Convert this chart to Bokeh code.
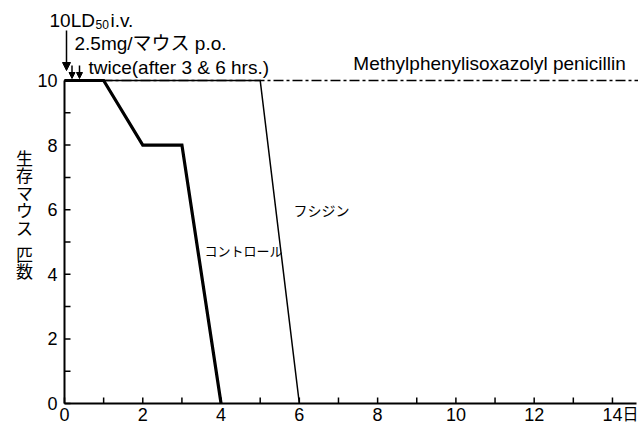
from bokeh.plotting import figure
from bokeh.models import Range1d, Arrow, NormalHead
from bokeh.core.properties import value
from bokeh.embed import file_html
from bokeh.resources import INLINE

# ---- data ----
ctrl_days = [0, 1, 2, 3, 4]
ctrl_mice = [10, 10, 8, 8, 0]
fus_days = [0, 5, 6]
fus_mice = [10, 10, 0]
pen_days = [0, 14.7]
pen_mice = [10, 10]

x_ticks = list(range(0, 15))
x_label_pos = [0, 2, 4, 6, 8, 10, 12, 14]
x_label_text = ["0", "2", "4", "6", "8", "10", "12", "14"]
x_unit = "日"
y_ticks = list(range(0, 11))
y_label_pos = [0, 2, 4, 6, 8, 10]
y_label_text = ["0", "2", "4", "6", "8", "10"]

ylabel_chars = ["生", "存", "マ", "ウ", "ス", "匹", "数"]
ctrl_name = "コントロール"
fus_name = "フシジン"
pen_name = "Methylphenylisoxazolyl penicillin"
note1a, note1b, note1c = "10LD", "50", "i.v."
note2 = "2.5mg/マウス p.o."
note3 = "twice(after 3 & 6 hrs.)"

FONT = "Liberation Sans, Noto Sans CJK JP"

# ---- geometry (pixels) ----
W, H = 638, 425
X0_PX, XS = 64, 39.14      # x=0 position and px per day
Y0_PX, YS = 403, 32.3      # y=0 position (from top) and px per mouse
BL = 5                     # baseline correction (px) for alphabetic text

def dx(px):  # px distance -> data units
    return px / XS

def dy(px):
    return px / YS

def ytop(px_from_top):  # pixel row -> data y
    return (Y0_PX - px_from_top) / YS

p = figure(width=W, height=H, output_backend="svg", toolbar_location=None,
           x_range=Range1d(-X0_PX / XS, (W - X0_PX) / XS),
           y_range=Range1d(-(H - Y0_PX) / YS, Y0_PX / YS),
           min_border=0, min_border_left=0, min_border_right=0,
           min_border_top=0, min_border_bottom=0)
p.outline_line_color = None
p.xgrid.visible = False
p.ygrid.visible = False
p.xaxis.visible = False
p.yaxis.visible = False

# ---- axes drawn with glyphs ----
x_end = (W - 2 - X0_PX) / XS
p.segment(x0=[0, 0], y0=[0, 0], x1=[x_end, 0], y1=[0, 10], line_color="black", line_width=2)
p.segment(x0=x_ticks, y0=[0] * len(x_ticks), x1=x_ticks, y1=[dy(6)] * len(x_ticks),
          line_color="black", line_width=1.5)
p.segment(x0=[0] * len(y_ticks), y0=y_ticks, x1=[dx(6)] * len(y_ticks), y1=y_ticks,
          line_color="black", line_width=1.5)

p.text(x=x_label_pos, y=[ytop(419 - BL)] * len(x_label_pos), text=x_label_text,
       text_font=value(FONT), text_font_size=value("18px"), text_color="black",
       text_align="center", text_baseline="alphabetic")
p.text(x=[14], y=[ytop(419 - BL)], x_offset=[10], text=[x_unit],
       text_font=value(FONT), text_font_size=value("16px"), text_color="black",
       text_align="left", text_baseline="alphabetic")
p.text(x=[-dx(7)] * len(y_label_pos), y=y_label_pos, text=y_label_text,
       text_font=value(FONT), text_font_size=value("18px"), text_color="black",
       text_align="right", text_baseline="middle")

# y-axis title written vertically
yl_y = [ytop(149 + i * 17.6 + (8 if i >= 5 else 0)) for i in range(len(ylabel_chars))]
p.text(x=[-dx(40)] * len(ylabel_chars), y=yl_y, text=ylabel_chars,
       text_font=value(FONT), text_font_size=value("17px"), text_color="black",
       text_align="center", text_baseline="top")

# ---- series ----
p.line(pen_days, pen_mice, line_color="black", line_width=1.4, line_dash="10 3 3 3")
p.line(fus_days, fus_mice, line_color="black", line_width=1.5, line_join="miter")
p.line(ctrl_days, ctrl_mice, line_color="black", line_width=3.2, line_join="miter")

# ---- top annotations ----
b1 = ytop(25 - BL)
p.text(x=[-dx(15)], y=[b1], text=[note1a], text_font=value(FONT), text_font_size=value("19px"),
       text_color="black", text_baseline="alphabetic")
p.text(x=[-dx(15)], y=[b1 - dy(4)], x_offset=[46], text=[note1b], text_font=value(FONT),
       text_font_size=value("12px"), text_color="black", text_baseline="alphabetic")
p.text(x=[-dx(15)], y=[b1], x_offset=[61], text=[note1c], text_font=value(FONT),
       text_font_size=value("19px"), text_color="black", text_baseline="alphabetic")
p.text(x=[dx(10)], y=[ytop(48 - BL)], text=[note2], text_font=value(FONT),
       text_font_size=value("19px"), text_color="black", text_baseline="alphabetic")
p.text(x=[dx(24)], y=[ytop(72 - BL)], text=[note3], text_font=value(FONT),
       text_font_size=value("19px"), text_color="black", text_baseline="alphabetic")
p.text(x=[7.38], y=[ytop(68 - BL)], text=[pen_name], text_font=value(FONT),
       text_font_size=value("19px"), text_color="black", text_baseline="alphabetic")

# curve labels
p.text(x=[3.58], y=[ytop(250.5)], text=[ctrl_name], text_font=value(FONT),
       text_font_size=value("13px"), text_color="black", text_baseline="middle")
p.text(x=[5.85], y=[ytop(210)], text=[fus_name], text_font=value(FONT),
       text_font_size=value("14px"), text_color="black", text_baseline="middle")

# arrows
p.add_layout(Arrow(end=NormalHead(size=8, fill_color="black", line_color="black"),
                   x_start=dx(2), y_start=ytop(30), x_end=dx(2), y_end=ytop(70),
                   line_color="black", line_width=1.5))
for xa in (dx(7.5), dx(15)):
    p.add_layout(Arrow(end=NormalHead(size=6, fill_color="black", line_color="black"),
                       x_start=xa, y_start=ytop(65), x_end=xa, y_end=ytop(78),
                       line_color="black", line_width=1.5))

open("out.html", "w").write(file_html(p, INLINE))
